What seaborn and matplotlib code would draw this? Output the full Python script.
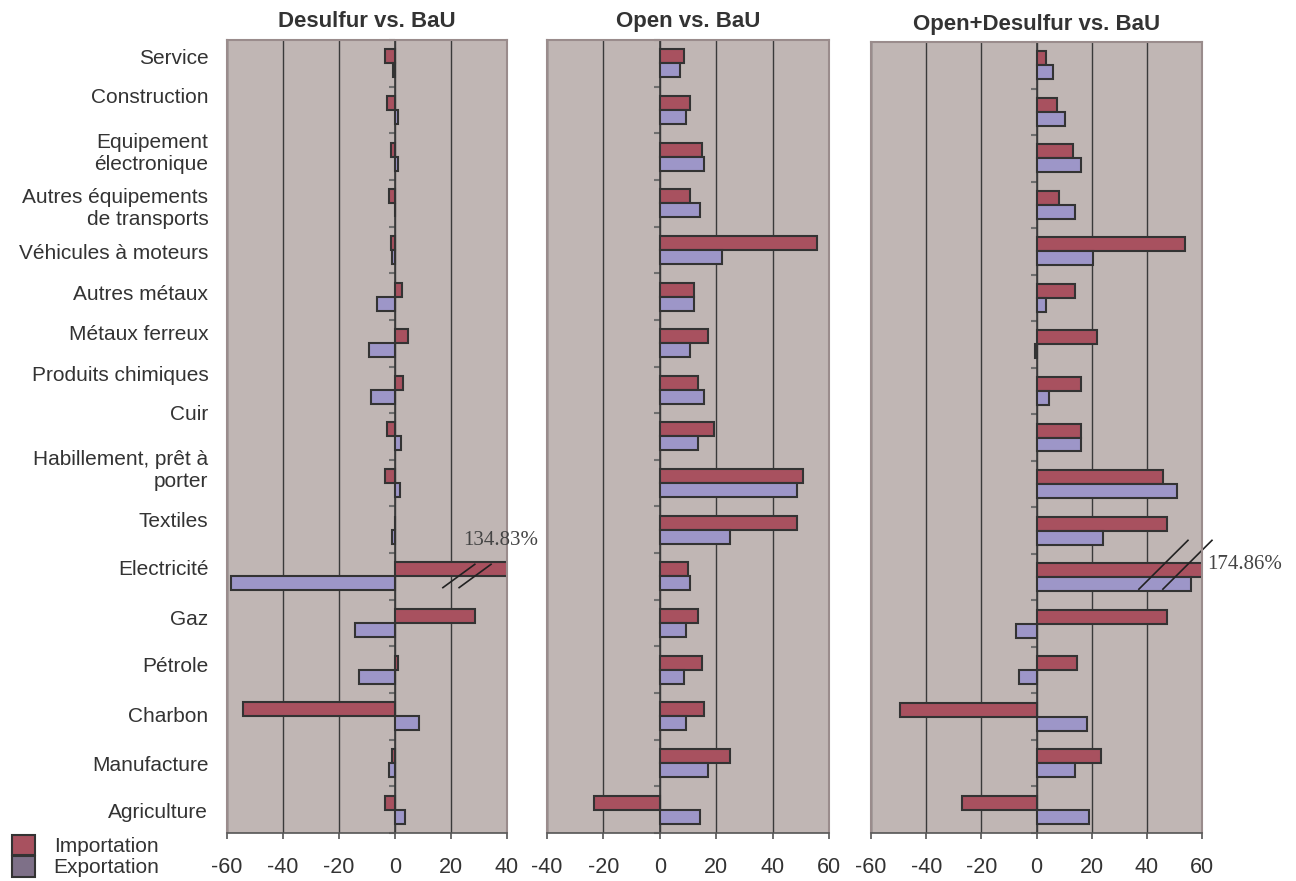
import numpy as np
import pandas as pd
import seaborn as sns
import matplotlib.pyplot as plt
from matplotlib.patches import Patch

# Sectors, top to bottom
sectors = [
    "Service",
    "Construction",
    "Equipement\nélectronique",
    "Autres équipements\nde transports",
    "Véhicules à moteurs",
    "Autres métaux",
    "Métaux ferreux",
    "Produits chimiques",
    "Cuir",
    "Habillement, prêt à\nporter",
    "Textiles",
    "Electricité",
    "Gaz",
    "Pétrole",
    "Charbon",
    "Manufacture",
    "Agriculture",
]

# Variations (%)
desulfur_imp = [-3.7, -3.0, -1.5, -2.1, -1.5, 2.4, 4.5, 3.0, -3.0, -3.7, 0.0, 134.83, 28.7, 1.0, -54.4, -1.0, -3.7]
desulfur_exp = [-0.8, 1.0, 1.0, 0.0, -1.0, -6.5, -9.3, -8.6, 2.3, 1.7, -1.0, -58.6, -14.3, -12.9, 8.7, -2.0, 3.7]

open_imp = [8.6, 10.7, 14.9, 10.7, 55.9, 12.1, 17.1, 13.4, 19.2, 50.9, 48.8, 10.0, 13.5, 15.1, 15.6, 24.8, -23.4]
open_exp = [7.1, 9.3, 15.6, 14.2, 22.0, 12.1, 10.6, 15.5, 13.5, 48.8, 24.8, 10.7, 9.3, 8.6, 9.3, 17.1, 14.2]

both_imp = [3.6, 7.4, 13.1, 8.0, 53.8, 13.8, 21.9, 16.1, 16.1, 45.8, 47.3, 174.86, 47.3, 14.7, -49.5, 23.4, -26.9]
both_exp = [5.9, 10.3, 16.1, 13.8, 20.5, 3.6, -0.7, 4.4, 16.1, 51.0, 24.1, 56.1, -7.3, -6.5, 18.3, 13.8, 19.0]

titles = ["Desulfur vs. BaU", "Open vs. BaU", "Open+Desulfur vs. BaU"]
x_limits = [(-60, 40), (-40, 60), (-60, 60)]
flux_names = ["Importation", "Exportation"]

# layout (figure fractions) and label nudges, in category units
panel_pos = [
    [0.1752, 0.0545, 0.2160, 0.9001],
    [0.4221, 0.0545, 0.2176, 0.9001],
    [0.6721, 0.0545, 0.2554, 0.8978],
]
label_shift = [-0.15, -0.30, -0.15, 0.04, 0.04, -0.09, -0.24, -0.34, -0.51,
               -0.34, -0.21, -0.19, -0.13, -0.11, -0.04, 0.0, 0.02]

RED = "#A8515F"
BLUE = "#9D96C8"
LEGEND_BLUE = "#7E7088"
EDGE = "#333333"
BG = "#C0B6B4"
FRAME = "#9A8C8C"
TEXT = "#333333"

plt.rcParams["font.family"] = ["Liberation Sans", "DejaVu Sans"]
plt.rcParams["axes.unicode_minus"] = False

fig = plt.figure(figsize=(12.96, 8.81), dpi=100)

series = [(desulfur_imp, desulfur_exp), (open_imp, open_exp), (both_imp, both_exp)]
axes = []
for i, ((imp, exp), title, xlim, pos) in enumerate(zip(series, titles, x_limits, panel_pos)):
    ax = fig.add_axes(pos)
    df = pd.DataFrame(
        {
            "Secteur": sectors * 2,
            "Flux": [flux_names[0]] * len(sectors) + [flux_names[1]] * len(sectors),
            "Valeur": imp + exp,
        }
    )
    sns.barplot(
        data=df,
        x="Valeur",
        y="Secteur",
        hue="Flux",
        order=sectors,
        hue_order=flux_names,
        palette=[RED, BLUE],
        saturation=1,
        orient="h",
        width=0.6,
        edgecolor=EDGE,
        linewidth=1.5,
        errorbar=None,
        legend=False,
        ax=ax,
    )
    ax.set_facecolor(BG)
    ax.set_xlim(*xlim)
    ax.set_ylim(len(sectors) - 0.5, -0.5)
    ax.set_xticks(np.arange(xlim[0], xlim[1] + 1, 20))
    ax.grid(axis="x", color="#3a3a3a", linewidth=1)
    ax.grid(axis="y", visible=False)
    ax.set_axisbelow(True)
    ax.set_xlabel("")
    ax.set_ylabel("")
    for side in ["left", "right", "top"]:
        ax.spines[side].set_color(FRAME)
        ax.spines[side].set_linewidth(1.5)
    ax.spines["bottom"].set_color("#555555")
    ax.spines["bottom"].set_linewidth(1.2)
    ax.tick_params(axis="x", direction="out", length=4, width=1.2, color="#555555",
                   labelsize=15.5, labelcolor=TEXT, pad=13)

    if i == 0:
        ax.set_yticks(np.arange(len(sectors)) + np.array(label_shift))
        ax.set_yticklabels(sectors)
        ax.tick_params(axis="y", length=0, labelsize=15, labelcolor=TEXT, pad=13.5)
    else:
        ax.set_yticks([])

    ax.set_title(title, fontsize=16, fontweight="bold", color=TEXT, pad=9)

    # category axis drawn at x = 0, with ticks between categories
    zero = ax.secondary_yaxis((0 - xlim[0]) / (xlim[1] - xlim[0]))
    zero.set_alignment("left")
    zero.set_yticks(np.arange(-0.5, len(sectors), 1))
    zero.set_yticklabels([])
    zero.tick_params(axis="y", direction="out", length=4.5, width=1.5, color="#6e6e6e")
    zero.spines["left"].set_color("#3a3a3a")
    zero.spines["left"].set_linewidth(1.2)
    axes.append(ax)

# axis break marks for the off-scale bars (Electricité)
elec = sectors.index("Electricité")
ax = axes[0]
for x0 in [17.1, 22.9]:
    ax.plot([x0, x0 + 11.4], [elec + 0.24, elec - 0.26], color="#222222", lw=1.2, clip_on=False)
ax.text(24.3, elec - 0.77, f"{desulfur_imp[elec]:.2f}%", family=["Liberation Serif", "DejaVu Serif"],
        fontsize=15, color="#444444", ha="left", va="center", clip_on=False)

ax = axes[2]
for x0 in [37.1, 45.8]:
    ax.plot([x0, x0 + 17.8], [elec + 0.26, elec - 0.79], color="#222222", lw=1.2, clip_on=False)
ax.text(61.8, elec - 0.28, f"{both_imp[elec]:.2f}%", family=["Liberation Serif", "DejaVu Serif"],
        fontsize=15, color="#444444", ha="left", va="center", clip_on=False)

handles = [
    Patch(facecolor=RED, edgecolor=EDGE, linewidth=1.5),
    Patch(facecolor=LEGEND_BLUE, edgecolor=EDGE, linewidth=1.5),
]
fig.legend(
    handles,
    flux_names,
    loc="lower left",
    bbox_to_anchor=(0.0093, 0.004),
    borderaxespad=0.0,
    frameon=False,
    fontsize=15,
    handlelength=1.1,
    handleheight=1.15,
    labelspacing=0.0,
    handletextpad=0.9,
    borderpad=0.0,
    labelcolor=TEXT,
)

fig.savefig("out.png", dpi=100)
